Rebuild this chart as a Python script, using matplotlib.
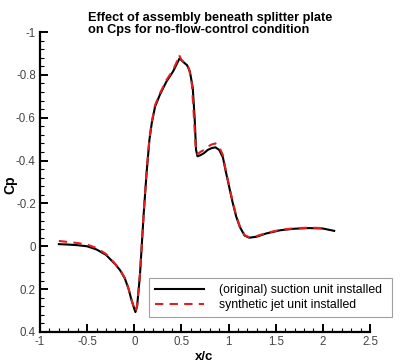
import numpy as np
import matplotlib
matplotlib.use("Agg")
import matplotlib.pyplot as plt
from matplotlib.ticker import MultipleLocator, FuncFormatter

plt.rcParams['font.family'] = ['Liberation Sans', 'DejaVu Sans']

# x/c positions and Cp values
x_suction = [-0.80, -0.70, -0.60, -0.50, -0.40, -0.30, -0.20, -0.15, -0.10, -0.06, -0.03, 0.00, 0.012,
             0.03, 0.06, 0.10, 0.13, 0.16, 0.185, 0.22, 0.27, 0.34, 0.41, 0.45, 0.48, 0.52,
             0.56, 0.59, 0.62, 0.64, 0.655, 0.67, 0.70, 0.74, 0.78, 0.82, 0.86, 0.90,
             0.94, 0.97, 1.00, 1.04, 1.08, 1.12, 1.17, 1.22, 1.30, 1.40, 1.55, 1.70,
             1.85, 2.00, 2.12]
cp_suction = [-0.010, -0.008, -0.005, 0.000, 0.015, 0.040, 0.085, 0.112, 0.150, 0.200, 0.250, 0.292, 0.307,
              0.280, 0.135, -0.153, -0.340, -0.495, -0.574, -0.651, -0.706, -0.768, -0.815, -0.850, -0.877, -0.860,
              -0.845, -0.815, -0.740, -0.600, -0.450, -0.420, -0.425, -0.435, -0.450, -0.458, -0.462, -0.450,
              -0.415, -0.350, -0.290, -0.210, -0.140, -0.090, -0.050, -0.040, -0.045, -0.060, -0.075, -0.082,
              -0.085, -0.083, -0.072]

x_jet = [-0.80, -0.70, -0.60, -0.50, -0.40, -0.30, -0.20, -0.15, -0.10, -0.06, -0.03, 0.00, 0.012,
         0.03, 0.06, 0.10, 0.13, 0.16, 0.185, 0.22, 0.27, 0.34, 0.41, 0.45, 0.475, 0.50,
         0.54, 0.58, 0.61, 0.63, 0.65, 0.67, 0.70, 0.74, 0.78, 0.82, 0.86, 0.90,
         0.94, 0.97, 1.00, 1.04, 1.08, 1.12, 1.17, 1.22, 1.30, 1.40, 1.55, 1.70,
         1.85, 2.00, 2.05]
cp_jet = [-0.025, -0.020, -0.015, -0.008, 0.008, 0.036, 0.083, 0.110, 0.148, 0.198, 0.248, 0.290, 0.304,
          0.276, 0.130, -0.158, -0.345, -0.500, -0.580, -0.658, -0.712, -0.775, -0.822, -0.860, -0.893, -0.870,
          -0.855, -0.830, -0.760, -0.620, -0.470, -0.430, -0.440, -0.450, -0.465, -0.475, -0.480, -0.465,
          -0.425, -0.355, -0.295, -0.215, -0.145, -0.092, -0.052, -0.042, -0.048, -0.062, -0.077, -0.084,
          -0.087, -0.085, -0.080]

fig = plt.figure(figsize=(4.0, 3.63), dpi=100)
ax = fig.add_axes([0.1, 0.0854, 0.825, 0.8264])

ax.plot(x_suction, cp_suction, color="black", lw=1.5, label="(original) suction unit installed")
ax.plot(x_jet, cp_jet, color="#e02020", lw=1.5, ls=(0, (4, 3)), label="synthetic jet unit installed")

ax.set_xlim(-1, 2.5)
ax.set_ylim(0.4, -1)
ax.xaxis.set_major_locator(MultipleLocator(0.5))
ax.xaxis.set_minor_locator(MultipleLocator(0.1))
ax.yaxis.set_major_locator(MultipleLocator(0.2))
ax.yaxis.set_minor_locator(MultipleLocator(0.04))
ax.xaxis.set_major_formatter(FuncFormatter(lambda v, p: f"{v:g}"))
ax.yaxis.set_major_formatter(FuncFormatter(lambda v, p: f"{v:g}" if abs(v) > 1e-9 else "0"))

for s in ["top", "right"]:
    ax.spines[s].set_visible(False)
for s in ["left", "bottom"]:
    ax.spines[s].set_linewidth(1.6)
ax.tick_params(which="major", direction="in", length=6, width=1.4, labelsize=8.3, labelcolor="#444444", pad=3)
ax.tick_params(which="minor", direction="in", length=3, width=0.8)

# axis titles placed by hand, like the Tecplot original
fig.text(0.51, 0.009, "x/c", fontsize=9.5, fontweight="bold", ha="center", va="baseline")
fig.text(0.027, 0.49, "Cp", fontsize=10, fontweight="bold", rotation=90, ha="center", va="center")

fig.text(0.22, 0.968, "Effect of assembly beneath splitter plate\non Cps for no-flow-control condition",
         fontsize=9.2, fontweight="bold", ha="left", va="top", linespacing=1.0)

leg = fig.legend(loc="lower left", bbox_to_anchor=(0.3725, 0.1267, 0.6075, 0.1267), mode="expand",
                 borderaxespad=0, fontsize=8.8, handlelength=4.0, frameon=True, fancybox=False,
                 borderpad=0.5, labelspacing=0.2, handletextpad=1.2)
leg.get_frame().set_edgecolor("#888888")
leg.get_frame().set_linewidth(0.8)

fig.savefig("out.png", dpi=100)
